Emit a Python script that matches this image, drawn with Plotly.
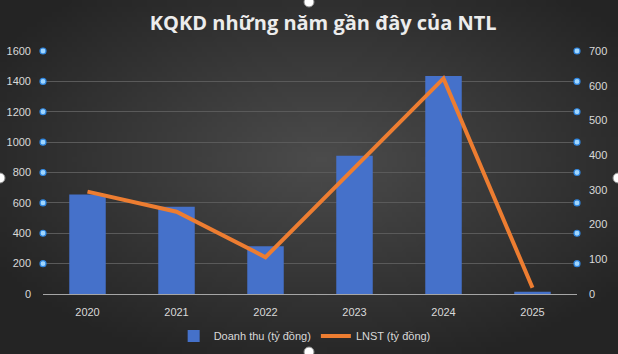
import base64, struct, zlib
import numpy as np
import plotly.graph_objects as go

years = ["2020", "2021", "2022", "2023", "2024", "2025"]
revenue = [655, 575, 315, 910, 1436, 15]      # Doanh thu (tỷ đồng)
profit = [295, 237, 106, 365, 621, 18]        # LNST (tỷ đồng)
left_ticks = [0, 200, 400, 600, 800, 1000, 1200, 1400, 1600]
right_ticks = [0, 100, 200, 300, 400, 500, 600, 700]
left_range = [0, 1600]
right_range = [0, 700]

W, H = 618, 354
ML, MR, MT, MB = 43, 41, 51, 60


def radial_png(w, h, inner, outer):
    yy, xx = np.mgrid[0:h, 0:w]
    cx, cy = (w - 1) * 0.52, (h - 1) * 0.45
    d = np.sqrt(((xx - cx) / (w * 0.62)) ** 2 + ((yy - cy) / (h * 0.62)) ** 2)
    d = np.clip(d, 0, 1)
    img = np.zeros((h, w, 3), dtype=np.uint8)
    for c in range(3):
        img[..., c] = (inner[c] + (outer[c] - inner[c]) * d).astype(np.uint8)
    raw = b"".join(b"\x00" + img[r].tobytes() for r in range(h))

    def chunk(t, data):
        c = struct.pack(">I", len(data)) + t + data
        return c + struct.pack(">I", zlib.crc32(t + data) & 0xFFFFFFFF)

    png = b"\x89PNG\r\n\x1a\n" + chunk(b"IHDR", struct.pack(">IIBBBBB", w, h, 8, 2, 0, 0, 0))
    png += chunk(b"IDAT", zlib.compress(raw, 9)) + chunk(b"IEND", b"")
    return "data:image/png;base64," + base64.b64encode(png).decode()


bg = radial_png(124, 71, (76, 76, 76), (36, 36, 36))

fig = go.Figure()
fig.add_trace(go.Bar(
    x=years, y=revenue, name="Doanh thu (tỷ đồng)",
    marker=dict(color="#4571CA", line=dict(width=0)), width=0.41, yaxis="y",
))
fig.add_trace(go.Scatter(
    x=years, y=profit, name="LNST (tỷ đồng)", mode="lines",
    line=dict(color="#ED7D31", width=4), yaxis="y2",
))

shapes = []
# gridline selection handles on both sides (positions follow the left axis ticks)
for v in left_ticks[1:]:
    frac = (v - left_range[0]) / (left_range[1] - left_range[0])
    for px in (0, 1):
        shapes.append(dict(type="circle", xref="paper", yref="paper", xsizemode="pixel", ysizemode="pixel",
                           xanchor=px, yanchor=frac, x0=-3, x1=3, y0=-3, y1=3,
                           fillcolor="#9fd6ff", line=dict(color="#2f86e0", width=1.2), layer="above"))

# chart selection handles at the edges
pw = W - ML - MR
ph = H - MT - MB
for hx, hy in [(309, 2), (0, 178), (618, 178), (309, 352)]:
    shapes.append(dict(type="circle", xref="paper", yref="paper", xsizemode="pixel", ysizemode="pixel",
                       xanchor=(hx - ML) / pw, yanchor=(H - MB - hy) / ph, x0=-5, x1=5, y0=-5, y1=5,
                       fillcolor="white", line=dict(color="#8a8a8a", width=1), layer="above"))

fig.update_layout(
    width=W, height=H,
    margin=dict(l=ML, r=MR, t=MT, b=MB, autoexpand=False),
    paper_bgcolor="#3a3a3a", plot_bgcolor="rgba(0,0,0,0)",
    images=[dict(source=bg, xref="paper", yref="paper", x=-ML / pw, y=1 + MT / ph,
                 sizex=W / pw, sizey=H / ph, sizing="stretch", layer="below", xanchor="left", yanchor="top")],
    title=dict(text="<b>KQKD những năm gần đây của NTL</b>", x=0.523, xanchor="center", y=0.935, yanchor="middle",
               font=dict(family="Open Sans", size=20, color="#ececec")),
    font=dict(family="Liberation Sans", size=11, color="#d9d9d9"),
    bargap=0.59,
    xaxis=dict(showgrid=False, showline=True, linecolor="#a6a6a6", linewidth=1, ticks="",
               tickfont=dict(size=11, color="#d9d9d9"), ticklabelstandoff=8, fixedrange=True),
    yaxis=dict(range=left_range, tickvals=left_ticks, showgrid=True, gridcolor="#5a5a5a", gridwidth=1,
               zeroline=False, showline=False, ticks="", ticklabelstandoff=11,
               tickfont=dict(size=11, color="#d9d9d9")),
    yaxis2=dict(range=right_range, tickvals=right_ticks, overlaying="y", side="right", showgrid=False,
                zeroline=False, showline=False, ticks="", ticklabelstandoff=11,
                tickfont=dict(size=11, color="#d9d9d9")),
    legend=dict(orientation="h", x=0.49, xanchor="center", y=(294 - 336) / ph, yanchor="middle",
                font=dict(size=11, color="#d9d9d9"), itemwidth=30, bgcolor="rgba(0,0,0,0)", traceorder="normal"),
    shapes=shapes,
    showlegend=True,
)

fig.write_html("out.html")
